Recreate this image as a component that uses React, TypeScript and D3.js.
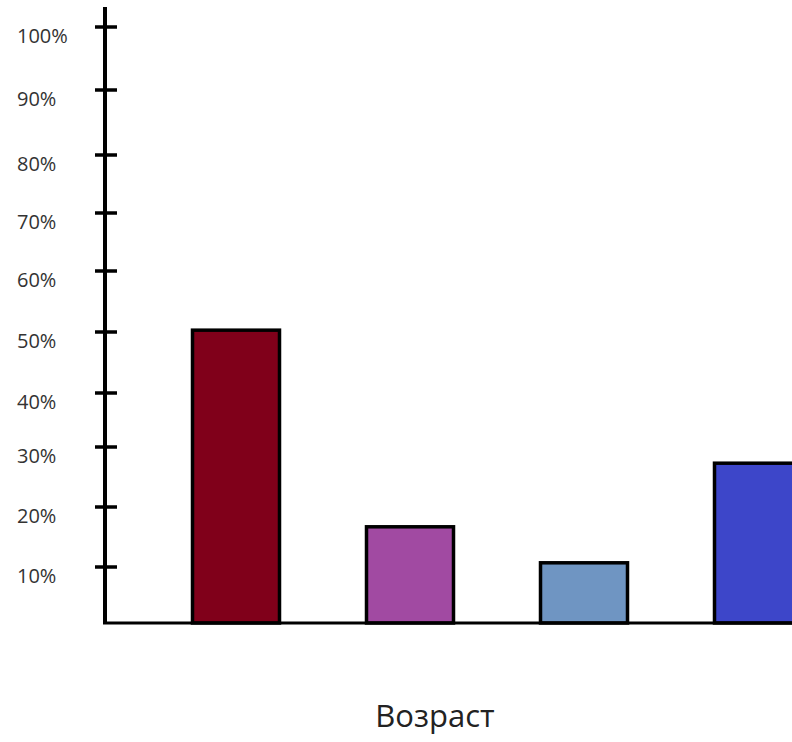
import React from "react";
import * as d3 from "d3";

// ---- data ----
const categories = ["A", "B", "C", "D"];
const values = [50.3, 16.7, 10.7, 27.3];
const barColors = ["#80001a", "#a14aa2", "#6f95c2", "#3d46c9"];
const tickValues = [0, 10, 20, 30, 40, 50, 60, 70, 80, 90, 100];
const tickLabels = ["", "10%", "20%", "30%", "40%", "50%", "60%", "70%", "80%", "90%", "100%"];
const axisTitle = "Возраст";

// ---- layout (hand-drawn axis: uneven tick spacing) ----
const W = 792;
const H = 742;
const axisX = 105;
const tickPixelY = [623, 567, 507, 447, 393, 332, 271, 213, 155, 90, 27];

export default function App() {
  const y = d3.scaleLinear().domain(tickValues).range(tickPixelY);
  const x = d3
    .scaleBand<string>()
    .domain(categories)
    .range([149, 845])
    .paddingInner(0.5)
    .paddingOuter(0.25);
  const baseY = y(0);

  return (
    <svg
      width={W}
      height={H}
      style={{ position: "absolute", left: 0, top: 0, background: "#fff" }}
      fontFamily="'Open Sans', 'Noto Sans', sans-serif"
    >
      <rect x={0} y={0} width={W} height={H} fill="#fff" />
      {categories.map((c, i) => (
        <rect
          key={c}
          x={x(c)}
          y={y(values[i])}
          width={x.bandwidth()}
          height={baseY - y(values[i])}
          fill={barColors[i]}
          stroke="#000"
          strokeWidth={3.5}
        />
      ))}
      {/* baseline */}
      <line x1={axisX - 2} x2={W} y1={baseY} y2={baseY} stroke="#000" strokeWidth={3} />
      {/* y axis */}
      <line x1={axisX} x2={axisX} y1={7} y2={baseY} stroke="#000" strokeWidth={4} />
      {tickValues.slice(1).map((v, i) => (
        <g key={v}>
          <line x1={axisX - 10} x2={axisX + 12} y1={y(v)} y2={y(v)} stroke="#000" strokeWidth={3.5} />
          <text x={17} y={y(v) + 16} fontSize={20} fill="#333">
            {tickLabels[i + 1]}
          </text>
        </g>
      ))}
      <text x={435} y={727} textAnchor="middle" fontSize={31} fill="#222">
        {axisTitle}
      </text>
    </svg>
  );
}
